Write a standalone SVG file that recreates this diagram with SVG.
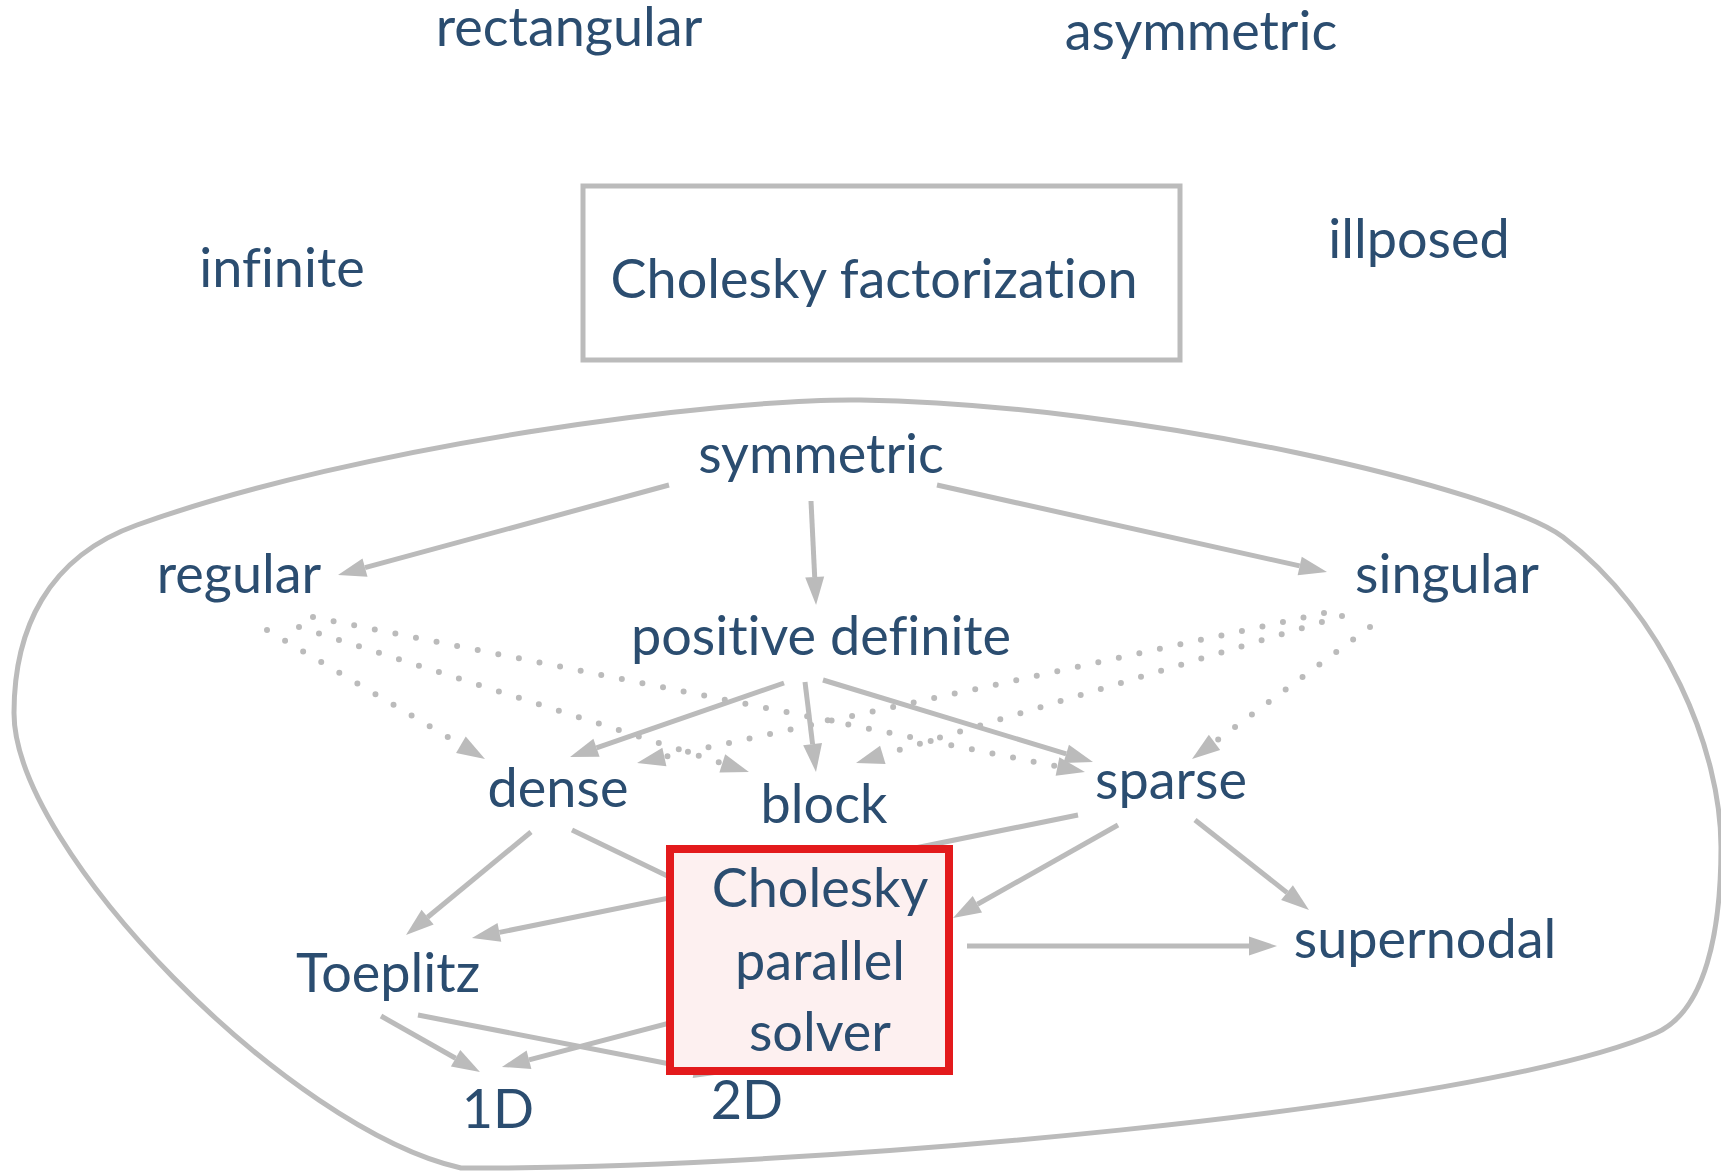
<svg xmlns="http://www.w3.org/2000/svg" width="1721" height="1173" viewBox="0 0 1721 1173">
  <defs>
    <marker id="arrow" markerUnits="userSpaceOnUse" markerWidth="28" markerHeight="19" refX="0" refY="9.5" orient="auto" overflow="visible">
      <path d="M0,0 L28,9.5 L0,19 Z" fill="#bbbbbb"/>
    </marker>
    <style>
      text { font-family: Lato, "Liberation Sans", sans-serif; font-size: 54px; fill: #2b4d70; text-anchor: middle; font-variant-ligatures: none; font-feature-settings: "liga" 0, "dlig" 0; }
      .edge { stroke: #bbbbbb; stroke-width: 5; fill: none; }
      .arrow { marker-end: url(#arrow); }
      .dotted { stroke: #bbbbbb; stroke-width: 6; stroke-linecap: round; stroke-dasharray: 0 21; fill: none; }
      .blob { stroke: #bbbbbb; stroke-width: 5; fill: none; }
    </style>
  </defs>

  <rect width="1721" height="1173" fill="#ffffff"/>

  <!-- outside labels -->
  <g id="rectangular"><text x="569" y="46">rectangular</text></g>
  <g id="asymmetric"><text x="1201" y="50">asymmetric</text></g>
  <g id="infinite"><text x="282" y="287">infinite</text></g>
  <g id="illposed"><text x="1419" y="258">illposed</text></g>
  <g id="cholesky-factorization">
    <rect x="583" y="186" width="597" height="174" fill="none" stroke="#bbbbbb" stroke-width="5"/>
    <text x="874" y="298">Cholesky factorization</text>
  </g>

  <!-- enclosing region -->
  <path class="blob" d="M860,400 C720,398 360,445 137,525 C47,557 14,630 14,713 C14,850 290,1130 461,1168 C800,1170 1480,1110 1656,1033 C1706,1011 1721,930 1721,847 C1721,750 1665,615 1563,537 C1500,490 1150,405 860,400 Z"/>

  <g id="connectors">
    <!-- solid edges -->
    <line class="edge arrow" x1="669" y1="485" x2="365" y2="567.7"/>
    <line class="edge arrow" x1="811" y1="501" x2="814.7" y2="577"/>
    <line class="edge arrow" x1="937" y1="485" x2="1299.7" y2="565.9"/>
    <line class="edge arrow" x1="784" y1="683" x2="596.5" y2="747.8"/>
    <line class="edge arrow" x1="805" y1="682" x2="812.6" y2="744.2"/>
    <line class="edge arrow" x1="823" y1="680" x2="1066.2" y2="753.9"/>
    <line class="edge arrow" x1="531" y1="832" x2="427.6" y2="917.2"/>
    <line class="edge" x1="572" y1="830" x2="740" y2="911"/>
    <line class="edge arrow" x1="1078" y1="815" x2="499.4" y2="932.4"/>
    <line class="edge arrow" x1="1118" y1="825" x2="977.4" y2="904.3"/>
    <line class="edge arrow" x1="1195" y1="820" x2="1287" y2="892.6"/>
    <line class="edge arrow" x1="967" y1="946" x2="1249" y2="946"/>
    <line class="edge arrow" x1="381" y1="1016" x2="455.6" y2="1058.2"/>
    <line class="edge arrow" x1="418" y1="1015" x2="694.5" y2="1068.7"/>
    <line class="edge arrow" x1="700" y1="1015" x2="529" y2="1059.8"/>
    <!-- dotted edges -->
    <line class="dotted arrow" x1="267" y1="630" x2="460.9" y2="744.7"/>
    <line class="dotted arrow" x1="299" y1="627" x2="722.3" y2="763.4"/>
    <line class="dotted arrow" x1="313" y1="617" x2="1057.5" y2="766.5"/>
    <line class="dotted arrow" x1="1370" y1="627" x2="1214.5" y2="742.3"/>
    <line class="dotted arrow" x1="1342" y1="616" x2="882.8" y2="754.9"/>
    <line class="dotted arrow" x1="1324" y1="613" x2="664.4" y2="757"/>
  </g>

  <!-- nodes inside the region -->
  <g id="symmetric"><text x="821" y="473">symmetric</text></g>
  <g id="regular"><text x="239" y="593">regular</text></g>
  <g id="singular"><text x="1447" y="593">singular</text></g>
  <g id="positive-definite"><text x="821" y="655">positive definite</text></g>
  <g id="dense"><text x="558" y="807">dense</text></g>
  <g id="block"><text x="824" y="823">block</text></g>
  <g id="sparse"><text x="1171" y="799">sparse</text></g>
  <g id="supernodal"><text x="1425" y="958">supernodal</text></g>
  <g id="toeplitz"><text x="388" y="992">Toeplitz</text></g>
  <g id="one-d"><text x="498" y="1128">1D</text></g>
  <g id="two-d"><text x="747" y="1119">2D</text></g>
  <g id="cholesky-parallel-solver">
    <rect x="670" y="849" width="279" height="222" fill="#fdf0f0" stroke="#e31a1c" stroke-width="8"/>
    <text x="820" y="907">Cholesky</text>
    <text x="820" y="980">parallel</text>
    <text x="820" y="1051">solver</text>
  </g>
</svg>
